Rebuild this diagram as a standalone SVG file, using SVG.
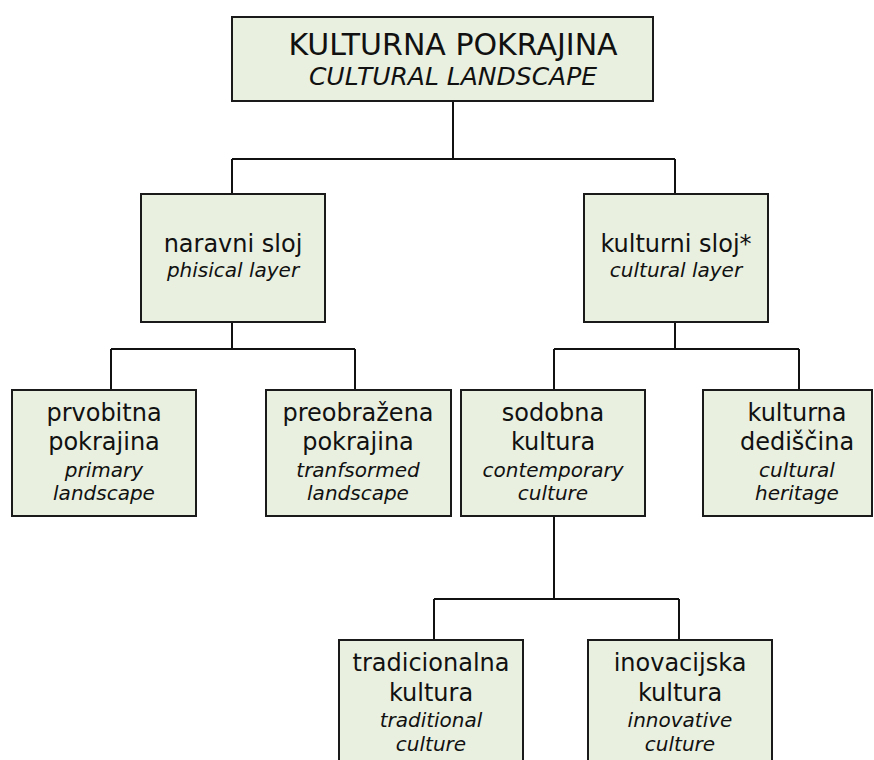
<svg xmlns="http://www.w3.org/2000/svg" width="874" height="760" viewBox="0 0 874 760">
<style>
.box{fill:#e9f0e0;stroke:#1a1a1a;stroke-width:2}
.t{font-family:"DejaVu Sans",Verdana,sans-serif;fill:#111;text-anchor:middle}
.m{font-size:24px}
.i{font-size:20px;font-style:italic}
.c{fill:none;stroke:#111;stroke-width:2}
</style>
<rect width="874" height="760" fill="#fff"/>
<g id="connectors">
<path class="c" d="M453,101 V159 M232,159 H675 M232,159 V194 M675,159 V194"/>
<path class="c" d="M232,322 V349 M111,349 H355 M111,349 V390 M355,349 V390"/>
<path class="c" d="M675,322 V349 M554,349 H799 M554,349 V390 M799,349 V390"/>
<path class="c" d="M554,516 V599 M434,599 H679 M434,599 V639 M679,599 V639"/>
</g>
<g id="root">
<rect class="box" x="232" y="17" width="421" height="84"/>
<text class="t" x="453" y="55" font-size="30">KULTURNA POKRAJINA</text>
<text class="t" x="453" y="85" font-size="25" font-style="italic">CULTURAL LANDSCAPE</text>
</g>
<g id="naravni">
<rect class="box" x="141" y="194" width="184" height="128"/>
<text class="t m" x="233" y="252">naravni sloj</text>
<text class="t i" x="233" y="277">phisical layer</text>
</g>
<g id="kulturni">
<rect class="box" x="584" y="194" width="184" height="128"/>
<text class="t m" x="676" y="252">kulturni sloj*</text>
<text class="t i" x="676" y="277">cultural layer</text>
</g>
<g id="prvobitna">
<rect class="box" x="12" y="390" width="184" height="126"/>
<text class="t m" x="104" y="421">prvobitna</text>
<text class="t m" x="104" y="450">pokrajina</text>
<text class="t i" x="104" y="477">primary</text>
<text class="t i" x="104" y="500">landscape</text>
</g>
<g id="preobrazena">
<rect class="box" x="266" y="390" width="185" height="126"/>
<text class="t m" x="358" y="421">preobražena</text>
<text class="t m" x="358" y="450">pokrajina</text>
<text class="t i" x="358" y="477">tranfsormed</text>
<text class="t i" x="358" y="500">landscape</text>
</g>
<g id="sodobna">
<rect class="box" x="461" y="390" width="184" height="126"/>
<text class="t m" x="553" y="421">sodobna</text>
<text class="t m" x="553" y="450">kultura</text>
<text class="t i" x="553" y="477">contemporary</text>
<text class="t i" x="553" y="500">culture</text>
</g>
<g id="dediscina">
<rect class="box" x="703" y="390" width="169" height="126"/>
<text class="t m" x="797" y="421">kulturna</text>
<text class="t m" x="797" y="450">dediščina</text>
<text class="t i" x="797" y="477">cultural</text>
<text class="t i" x="797" y="500">heritage</text>
</g>
<g id="tradicionalna">
<rect class="box" x="339" y="640" width="184" height="130"/>
<text class="t m" x="431" y="671">tradicionalna</text>
<text class="t m" x="431" y="701">kultura</text>
<text class="t i" x="431" y="727">traditional</text>
<text class="t i" x="431" y="751">culture</text>
</g>
<g id="inovacijska">
<rect class="box" x="588" y="640" width="184" height="130"/>
<text class="t m" x="680" y="671">inovacijska</text>
<text class="t m" x="680" y="701">kultura</text>
<text class="t i" x="680" y="727">innovative</text>
<text class="t i" x="680" y="751">culture</text>
</g>
</svg>
